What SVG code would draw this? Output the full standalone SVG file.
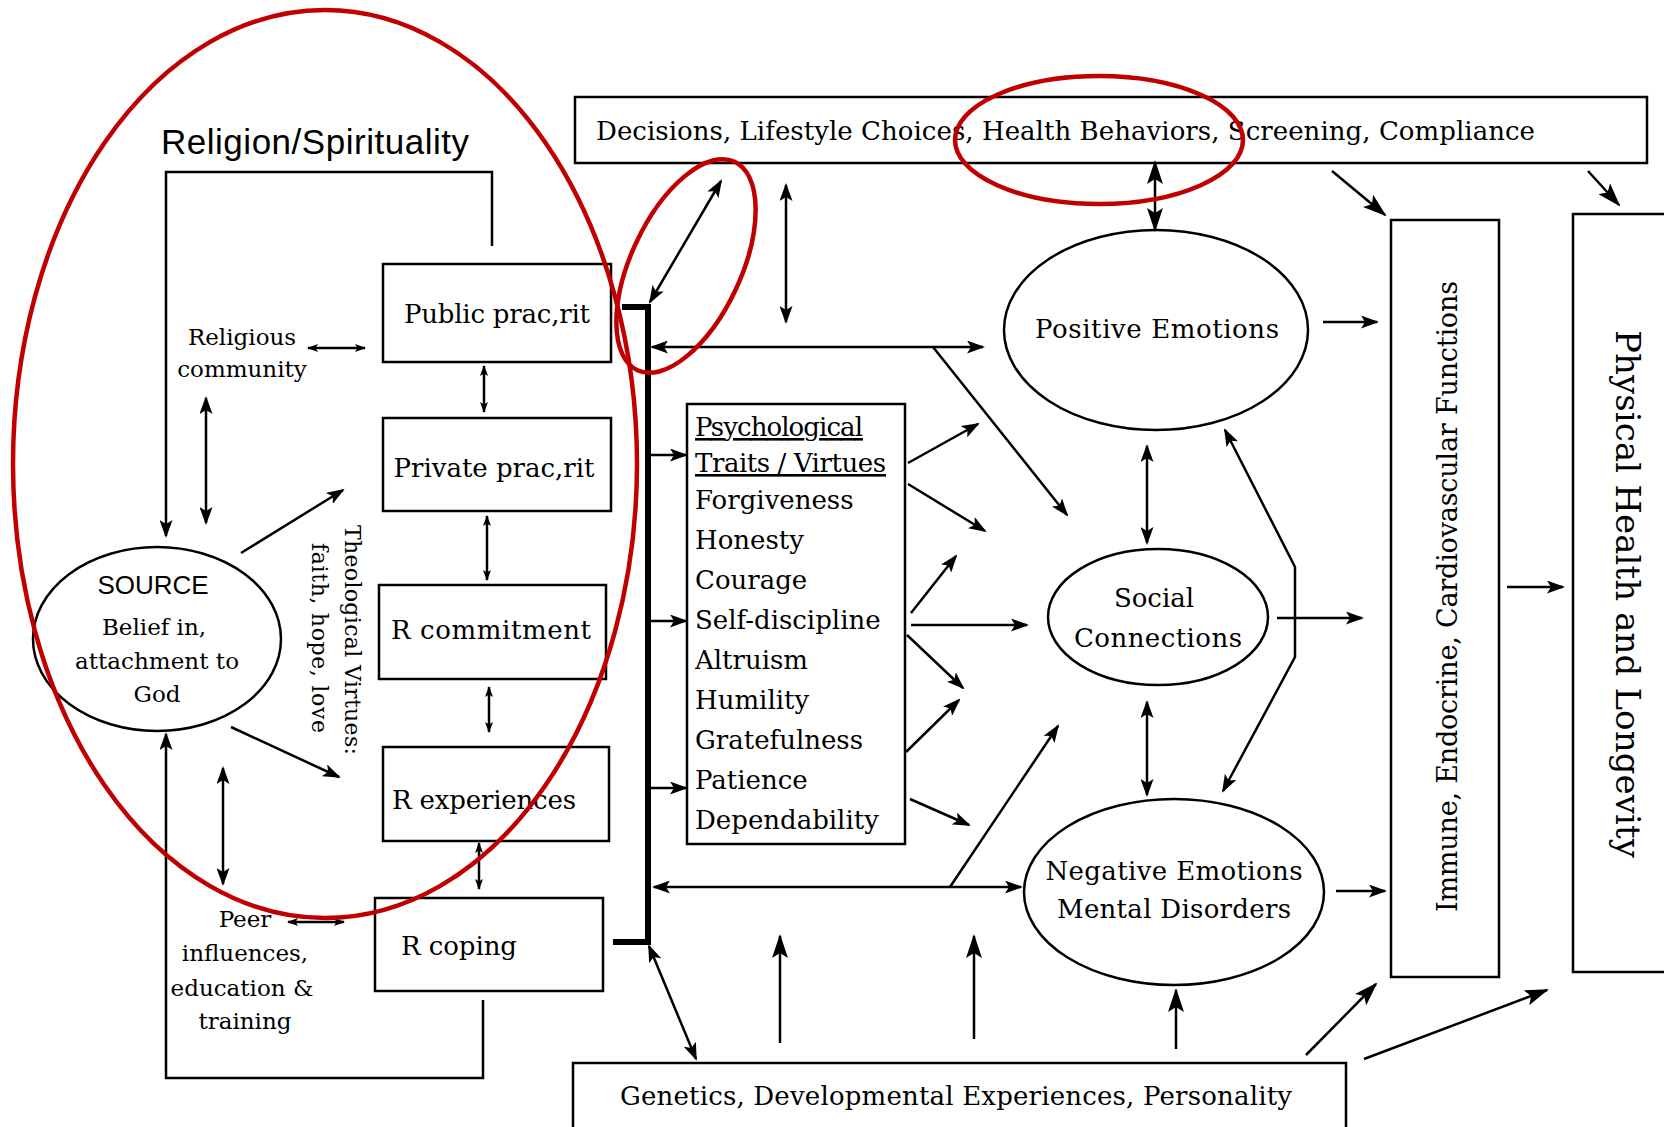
<svg xmlns="http://www.w3.org/2000/svg" width="1664" height="1127" viewBox="0 0 1664 1127">
<style>
.box{fill:none;stroke:#000;stroke-width:2.5}
.ln{fill:none;stroke:#000;stroke-width:2.5}
.bus{fill:none;stroke:#000;stroke-width:6}
.red{fill:none;stroke:#c00000;stroke-width:4.5}
.t{font-family:"DejaVu Serif","Liberation Serif",serif;font-size:26px;fill:#000}
.s23{font-size:23px}
.s22{font-size:22px}
.sans{font-family:"Liberation Sans","DejaVu Sans",sans-serif}
.mid{text-anchor:middle}
.ul{text-decoration:underline}
</style>
<defs>
<marker id="lg" viewBox="0 0 24 16" refX="22" refY="8" markerWidth="24" markerHeight="16" markerUnits="userSpaceOnUse" orient="auto-start-reverse"><path d="M0,0 L24,8 L0,16 L5,8 z"/></marker>
<marker id="md" viewBox="0 0 18 13" refX="16" refY="6.5" markerWidth="18" markerHeight="13" markerUnits="userSpaceOnUse" orient="auto-start-reverse"><path d="M0,0 L18,6.5 L0,13 L4,6.5 z"/></marker>
<marker id="sm" viewBox="0 0 11 8" refX="10" refY="4" markerWidth="11" markerHeight="8" markerUnits="userSpaceOnUse" orient="auto-start-reverse"><path d="M0,0 L11,4 L0,8 L2.5,4 z"/></marker>
</defs>
<rect width="1664" height="1127" fill="#fff"/>

<g id="title"><text class="t sans" x="161" y="154" style="font-size:35px" textLength="308">Religion/Spirituality</text></g>

<g id="public"><rect class="box" x="383" y="264" width="228" height="98"/><text class="t mid" x="497" y="323" textLength="186">Public prac,rit</text></g>
<g id="private"><rect class="box" x="383" y="418" width="228" height="93"/><text class="t mid" x="494" y="477" textLength="201">Private prac,rit</text></g>
<g id="commitment"><rect class="box" x="379" y="585" width="227" height="94"/><text class="t" x="391" y="639" textLength="200">R commitment</text></g>
<g id="experiences"><rect class="box" x="383" y="747" width="226" height="94"/><text class="t" x="392" y="809" textLength="184">R experiences</text></g>
<g id="coping"><rect class="box" x="375" y="898" width="228" height="93"/><text class="t" x="401" y="955" textLength="116">R coping</text></g>

<g id="source"><ellipse class="box" cx="157" cy="639" rx="124" ry="92"/>
<text class="t sans mid" x="153" y="594" style="font-size:26px">SOURCE</text>
<text class="t s23 mid" x="154" y="635">Belief in,</text>
<text class="t s23 mid" x="157" y="669" textLength="164">attachment to</text>
<text class="t s23 mid" x="157" y="702">God</text></g>

<g id="community"><text class="t s23 mid" x="242" y="345">Religious</text><text class="t s23 mid" x="242" y="377">community</text></g>
<g id="peer"><text class="t s23 mid" x="245" y="927">Peer</text><text class="t s23 mid" x="245" y="961">influences,</text><text class="t s23 mid" x="242" y="996">education &amp;</text><text class="t s23 mid" x="245" y="1029">training</text></g>
<g id="virtues" transform="translate(345,525) rotate(90)"><text class="t s22" x="0" y="0" textLength="230">Theological Virtues:</text><text class="t s22" x="18" y="33" textLength="190">faith, hope, love</text></g>

<g id="decisions"><rect class="box" x="575" y="97" width="1072" height="66"/><text class="t" x="596" y="140" textLength="939">Decisions, Lifestyle Choices, Health Behaviors, Screening, Compliance</text></g>

<g id="psych"><rect class="box" x="687" y="404" width="218" height="440"/>
<text class="t ul" x="695" y="436" textLength="168">Psychological</text>
<text class="t ul" x="695" y="472" textLength="191">Traits / Virtues</text>
<text class="t" x="695" y="509">Forgiveness</text>
<text class="t" x="695" y="549">Honesty</text>
<text class="t" x="695" y="589">Courage</text>
<text class="t" x="695" y="629">Self-discipline</text>
<text class="t" x="695" y="669">Altruism</text>
<text class="t" x="695" y="709">Humility</text>
<text class="t" x="695" y="749">Gratefulness</text>
<text class="t" x="695" y="789">Patience</text>
<text class="t" x="695" y="829">Dependability</text></g>

<g id="positive"><ellipse class="box" cx="1156" cy="330" rx="152" ry="100"/><text class="t mid" x="1157" y="338" textLength="244">Positive Emotions</text></g>
<g id="social"><ellipse class="box" cx="1158" cy="617" rx="110" ry="68"/><text class="t mid" x="1154" y="607">Social</text><text class="t mid" x="1158" y="647" textLength="168">Connections</text></g>
<g id="negative"><ellipse class="box" cx="1174" cy="892" rx="150" ry="93"/><text class="t mid" x="1174" y="880" textLength="257">Negative Emotions</text><text class="t mid" x="1174" y="918" textLength="234">Mental Disorders</text></g>

<g id="immune"><rect class="box" x="1391" y="220" width="108" height="757"/><text class="t" transform="translate(1457,912) rotate(-90)" style="font-size:27px" textLength="631">Immune, Endocrine, Cardiovascular Functions</text></g>
<g id="physical"><rect class="box" x="1573" y="214" width="130" height="758"/><text class="t" transform="translate(1616,330) rotate(90)" style="font-size:34px" textLength="528">Physical Health and Longevity</text></g>

<g id="genetics"><rect class="box" x="573" y="1063" width="773" height="90"/><text class="t" x="620" y="1105" textLength="672">Genetics, Developmental Experiences, Personality</text></g>

<g id="connectors">
<path class="ln" d="M492,246 V172 H166 V536" marker-end="url(#md)"/>
<path class="ln" d="M483,1000 V1078 H166 V734" marker-end="url(#md)"/>
<path class="ln" d="M308,348 H365" marker-start="url(#sm)" marker-end="url(#sm)"/>
<path class="ln" d="M206,398 V523" marker-start="url(#md)" marker-end="url(#md)"/>
<path class="ln" d="M484,366 V412" marker-start="url(#sm)" marker-end="url(#sm)"/>
<path class="ln" d="M487,516 V580" marker-start="url(#sm)" marker-end="url(#sm)"/>
<path class="ln" d="M489,687 V732" marker-start="url(#sm)" marker-end="url(#sm)"/>
<path class="ln" d="M479,843 V889" marker-start="url(#sm)" marker-end="url(#sm)"/>
<path class="ln" d="M288,922 H344" marker-start="url(#sm)" marker-end="url(#sm)"/>
<path class="ln" d="M223,768 V884" marker-start="url(#md)" marker-end="url(#md)"/>
<path class="ln" d="M241,553 L343,490" marker-end="url(#md)"/>
<path class="ln" d="M231,727 L339,777" marker-end="url(#md)"/>
<path class="bus" d="M622,307 H648 V942 H613"/>
<path class="ln" d="M651,455 H686" marker-end="url(#md)"/>
<path class="ln" d="M651,621 H686" marker-end="url(#md)"/>
<path class="ln" d="M651,788 H686" marker-end="url(#md)"/>
<path class="ln" d="M650,302 L721,181" marker-start="url(#md)" marker-end="url(#md)"/>
<path class="ln" d="M786,185 V322" marker-start="url(#md)" marker-end="url(#md)"/>
<path class="ln" d="M652,347 H983" marker-start="url(#md)" marker-end="url(#md)"/>
<path class="ln" d="M933,347 L1067,515" marker-end="url(#md)"/>
<path class="ln" d="M654,887 H1021" marker-start="url(#md)" marker-end="url(#md)"/>
<path class="ln" d="M950,887 L1058,726" marker-end="url(#md)"/>
<path class="ln" d="M908,463 L978,424" marker-end="url(#md)"/>
<path class="ln" d="M908,484 L985,531" marker-end="url(#md)"/>
<path class="ln" d="M911,613 L956,556" marker-end="url(#md)"/>
<path class="ln" d="M911,625 H1027" marker-end="url(#md)"/>
<path class="ln" d="M907,635 L963,688" marker-end="url(#md)"/>
<path class="ln" d="M906,752 L959,700" marker-end="url(#md)"/>
<path class="ln" d="M910,799 L969,825" marker-end="url(#md)"/>
<path class="ln" d="M1155,162 V230" marker-start="url(#lg)" marker-end="url(#lg)"/>
<path class="ln" d="M1147,446 V543" marker-start="url(#md)" marker-end="url(#md)"/>
<path class="ln" d="M1147,702 V795" marker-start="url(#md)" marker-end="url(#md)"/>
<path class="ln" d="M1225,430 L1295,567 V657 L1223,791" marker-start="url(#md)" marker-end="url(#md)"/>
<path class="ln" d="M1323,322 H1377" marker-end="url(#md)"/>
<path class="ln" d="M1277,618 H1362" marker-end="url(#md)"/>
<path class="ln" d="M1336,891 H1385" marker-end="url(#md)"/>
<path class="ln" d="M1332,171 L1385,215" marker-end="url(#lg)"/>
<path class="ln" d="M1588,171 L1619,205" marker-end="url(#lg)"/>
<path class="ln" d="M1507,587 H1563" marker-end="url(#md)"/>
<path class="ln" d="M649,946 L696,1059" marker-start="url(#md)" marker-end="url(#md)"/>
<path class="ln" d="M780,1043 V936" marker-end="url(#lg)"/>
<path class="ln" d="M974,1039 V936" marker-end="url(#lg)"/>
<path class="ln" d="M1176,1049 V990" marker-end="url(#lg)"/>
<path class="ln" d="M1306,1055 L1376,984" marker-end="url(#lg)"/>
<path class="ln" d="M1364,1059 L1547,990" marker-end="url(#lg)"/>
</g>

<g id="highlights">
<ellipse class="red" cx="325" cy="464" rx="312" ry="454"/>
<ellipse class="red" cx="686" cy="266" rx="55" ry="115" transform="rotate(25 686 266)"/>
<ellipse class="red" cx="1099" cy="140" rx="144" ry="64"/>
</g>
</svg>
